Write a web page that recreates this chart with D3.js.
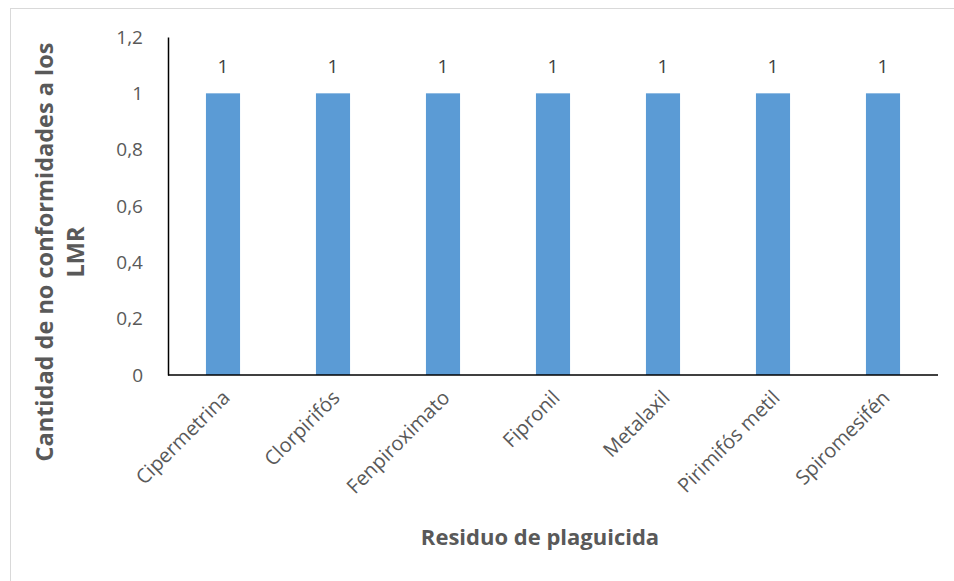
<!DOCTYPE html>
<html>
<head>
<meta charset="utf-8">
<script src="https://cdn.jsdelivr.net/npm/d3@7"></script>
<style>
  body { margin: 0; background: #fff; }
  svg text { font-family: "Open Sans", "Liberation Sans", sans-serif; }
</style>
</head>
<body>
<div id="chart"></div>
<script>
var width = 954;
var height = 581;

var categories = ['Cipermetrina', 'Clorpirifós', 'Fenpiroximato', 'Fipronil', 'Metalaxil', 'Pirimifós metil', 'Spiromesifén'];
var values = [1, 1, 1, 1, 1, 1, 1];
var yTicks = [0, 0.2, 0.4, 0.6, 0.8, 1, 1.2];

var plotLeft = 168, plotRight = 938, plotTop = 37, plotBottom = 375;

var svg = d3.select('#chart').append('svg')
  .attr('width', width).attr('height', height);

// chart border
svg.append('rect')
  .attr('x', 10.5).attr('y', 8.5)
  .attr('width', 960).attr('height', 600)
  .attr('fill', 'none')
  .attr('stroke', '#d9d9d9');

var x = d3.scaleBand()
  .domain(categories)
  .range([plotLeft, plotRight])
  .paddingInner(0.69)
  .paddingOuter(0.345);

var y = d3.scaleLinear()
  .domain([0, 1.2])
  .range([plotBottom, plotTop]);

// bars
svg.selectAll('rect.bar')
  .data(values)
  .enter()
  .append('rect')
  .attr('class', 'bar')
  .attr('x', function(d, i){ return x(categories[i]); })
  .attr('y', function(d){ return y(d); })
  .attr('width', x.bandwidth())
  .attr('height', function(d){ return y(0) - y(d); })
  .attr('fill', '#5b9bd5');

// value labels
svg.selectAll('text.val')
  .data(values)
  .enter()
  .append('text')
  .attr('class', 'val')
  .attr('x', function(d, i){ return x(categories[i]) + x.bandwidth() / 2; })
  .attr('y', function(d){ return y(d) - 20; })
  .attr('text-anchor', 'middle')
  .attr('font-size', 19)
  .attr('fill', '#404040')
  .text(function(d){ return d; });

// y axis
var yAxis = svg.append('g')
  .attr('transform', 'translate(' + plotLeft + ',0)')
  .call(d3.axisLeft(y).tickValues(yTicks).tickSize(0).tickPadding(25)
    .tickFormat(function(d){ return String(+d.toFixed(1)).replace('.', ','); }));
yAxis.select('.domain').attr('stroke', '#000').attr('stroke-width', 1.5);
yAxis.selectAll('text').attr('font-size', 19).attr('fill', '#595959');

// x axis
var xAxis = svg.append('g')
  .attr('transform', 'translate(0,' + plotBottom + ')')
  .call(d3.axisBottom(x).tickSize(0).tickPadding(0));
xAxis.select('.domain').attr('stroke', '#000').attr('stroke-width', 1.5)
  .attr('d', 'M' + plotLeft + ',0H' + plotRight);
xAxis.selectAll('text')
  .attr('font-size', 20)
  .attr('fill', '#595959')
  .attr('text-anchor', 'end')
  .attr('dy', 0)
  .attr('transform', 'translate(8,24) rotate(-45)');

// axis titles
svg.append('text')
  .attr('transform', 'translate(540,545)')
  .attr('text-anchor', 'middle')
  .attr('font-size', 22)
  .attr('font-weight', 'bold')
  .attr('fill', '#595959')
  .text('Residuo de plaguicida');

var yTitle = svg.append('text')
  .attr('transform', 'translate(53,252) rotate(-90)')
  .attr('text-anchor', 'middle')
  .attr('font-size', 23.5)
  .attr('font-weight', 'bold')
  .attr('fill', '#595959');
yTitle.append('tspan').attr('x', 0).attr('dy', 0).text('Cantidad de no conformidades a los');
yTitle.append('tspan').attr('x', 0).attr('dy', 31).text('LMR');
</script>
</body>
</html>
